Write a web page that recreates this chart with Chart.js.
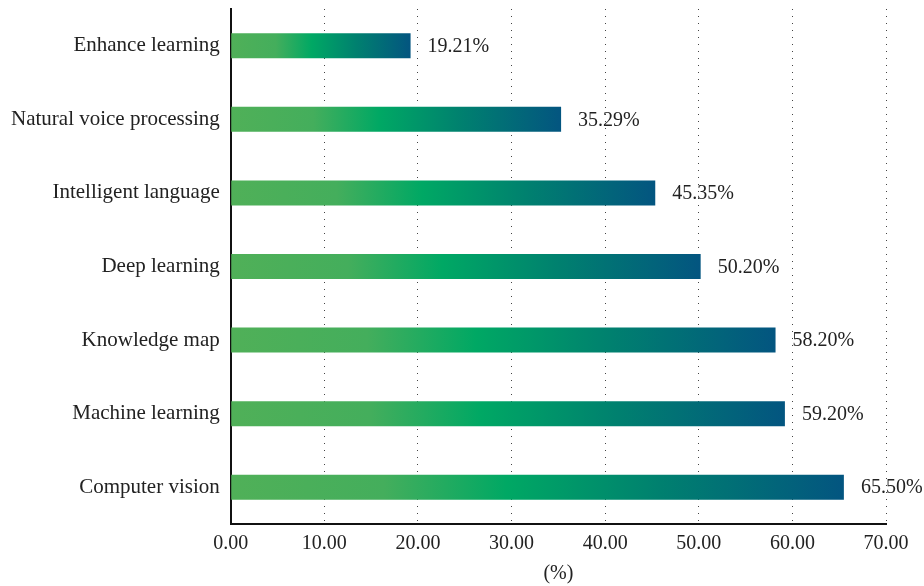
<!DOCTYPE html>
<html>
<head>
<meta charset="utf-8">
<script src="https://cdn.jsdelivr.net/npm/chart.js@4.4.0/dist/chart.umd.min.js"></script>
<style>
  html, body { margin: 0; padding: 0; background: #fff; }
  #wrap { width: 924px; height: 586px; }
</style>
</head>
<body>
<div id="wrap"><canvas id="barChart"></canvas></div>
<script>
const categories = [
  "Enhance learning",
  "Natural voice processing",
  "Intelligent language",
  "Deep learning",
  "Knowledge map",
  "Machine learning",
  "Computer vision",
];
const shares = [19.21, 35.29, 45.35, 50.2, 58.2, 59.2, 65.5];
const xTicks = [0, 10, 20, 30, 40, 50, 60, 70];

const FONT = "'Liberation Serif', 'DejaVu Serif', serif";

// gradient per bar, from axis start to the bar end
function barGradient(context) {
  const chart = context.chart;
  const xs = chart.scales.x;
  if (!chart.chartArea || !xs) return "#1f9a6a";
  const v = context.raw;
  const x0 = xs.getPixelForValue(0);
  const x1 = xs.getPixelForValue(v);
  const g = chart.ctx.createLinearGradient(x0, 0, x1, 0);
  g.addColorStop(0, "#50b058");
  g.addColorStop(0.25, "#44ae5c");
  g.addColorStop(0.45, "#00a864");
  g.addColorStop(0.7, "#00806f");
  g.addColorStop(1, "#035580");
  return g;
}

// value labels at the end of each bar
const valueLabels = {
  id: "valueLabels",
  afterDatasetsDraw(chart) {
    const ctx = chart.ctx;
    const meta = chart.getDatasetMeta(0);
    ctx.save();
    ctx.font = "20px " + FONT;
    ctx.fillStyle = "#222";
    ctx.textAlign = "left";
    ctx.textBaseline = "middle";
    meta.data.forEach((bar, i) => {
      ctx.fillText(shares[i].toFixed(2) + "%", bar.x + 17, bar.y + 1);
    });
    ctx.restore();
  },
};

new Chart(document.getElementById("barChart").getContext("2d"), {
  type: "bar",
  data: {
    labels: categories,
    datasets: [
      {
        data: shares,
        backgroundColor: barGradient,
        borderWidth: 0,
        barPercentage: 0.34,
        categoryPercentage: 1,
      },
    ],
  },
  options: {
    indexAxis: "y",
    responsive: true,
    maintainAspectRatio: false,
    animation: false,
    layout: { padding: { top: 9, right: 38, left: 0, bottom: 0 } },
    plugins: {
      legend: { display: false },
      tooltip: { enabled: false },
    },
    scales: {
      x: {
        min: 0,
        max: 70,
        afterBuildTicks(scale) {
          scale.ticks = xTicks.map((v) => ({ value: v }));
        },
        afterFit(scale) {
          scale.paddingLeft = 0;
          scale.paddingRight = 0;
        },
        ticks: {
          callback: (v) => Number(v).toFixed(2),
          color: "#222",
          padding: 8,
          maxRotation: 0,
          font: { size: 20, family: FONT },
        },
        grid: {
          drawTicks: false,
          color: (c) => (c.tick && c.tick.value === 0 ? "rgba(0,0,0,0)" : "#444"),
          lineWidth: 1,
        },
        border: { display: true, color: "#111", width: 2, dash: [1, 6] },
        title: {
          display: true,
          text: "(%)",
          color: "#222",
          padding: { top: -2, bottom: 0 },
          font: { size: 20, family: FONT },
        },
      },
      y: {
        afterFit(scale) {
          scale.paddingTop = 0;
          scale.paddingBottom = 0;
        },
        ticks: {
          color: "#222",
          padding: 11,
          font: { size: 21, family: FONT },
        },
        grid: { display: false, drawTicks: false },
        border: { display: true, color: "#111", width: 2 },
      },
    },
  },
  plugins: [valueLabels],
});
</script>
</body>
</html>
